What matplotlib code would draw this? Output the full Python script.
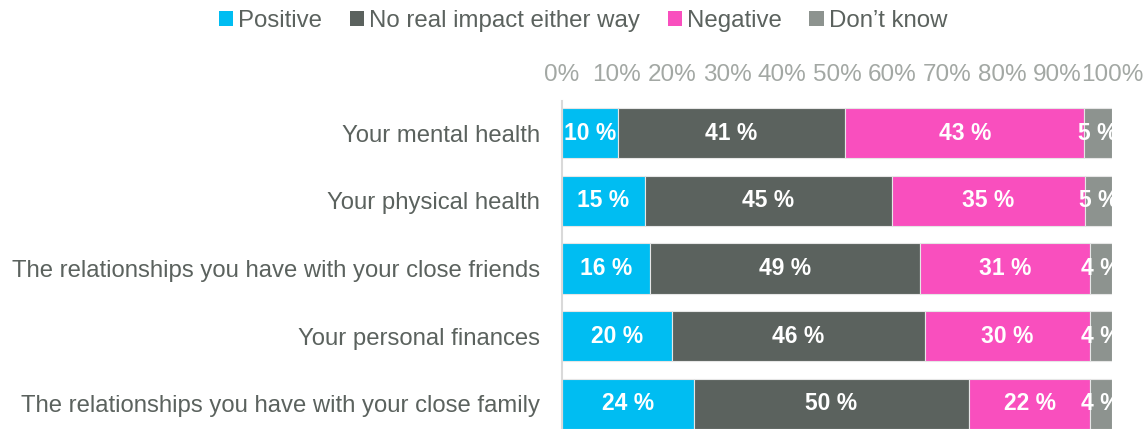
import numpy as np
import matplotlib.pyplot as plt
from matplotlib.patches import Patch

# respostas por item (%), da primeira para a última linha
itens = [
    "Your mental health",
    "Your physical health",
    "The relationships you have with your close friends",
    "Your personal finances",
    "The relationships you have with your close family",
]
series = ["Positive", "No real impact either way", "Negative", "Don\u2019t know"]
positivo = [10, 15, 16, 20, 24]
sem_impacto = [41, 45, 49, 46, 50]
negativo = [43, 35, 31, 30, 22]
nao_sabe = [5, 5, 4, 4, 4]
ticks = [0, 10, 20, 30, 40, 50, 60, 70, 80, 90, 100]

cores = ["#00BDF2", "#5B625E", "#F94FBE", "#8D938F"]
cinza_texto = "#5B625E"
cinza_ticks = "#A3A8A4"

plt.rcParams['font.family'] = ['Liberation Sans', 'DejaVu Sans']

dados = np.array([positivo, sem_impacto, negativo, nao_sabe], dtype=float)
# barras empilhadas a 100%
partes = dados / dados.sum(axis=0) * 100

fig = plt.figure(figsize=(11.48, 4.29), dpi=100)
ax = fig.add_axes([562 / 1148, 0, 550 / 1148, 1 - 101 / 429])

y = np.arange(len(itens))
esq = np.zeros(len(itens))
for i in range(len(series)):
    ax.barh(y, partes[i], left=esq, height=0.74, color=cores[i],
            edgecolor="#E6E6E6", linewidth=0.8)
    for j in range(len(itens)):
        ax.text(esq[j] + partes[i][j] / 2, y[j], "%d %%" % dados[i][j],
                ha="center", va="center", color="white", fontsize=16.5,
                fontweight="bold", clip_on=True)
    esq += partes[i]

ax.set_xlim(0, 100)
ax.set_ylim(4.37, -0.473)
ax.set_yticks(y)
ax.set_yticklabels(itens, fontsize=17.2, color=cinza_texto)
ax.set_xticks(ticks)
ax.set_xticklabels(["%d%%" % t for t in ticks], fontsize=17.5, color=cinza_ticks)
ax.xaxis.tick_top()
ax.tick_params(axis="both", length=0)
ax.tick_params(axis="x", pad=11)
ax.tick_params(axis="y", pad=16)
for lado in ["top", "right", "bottom"]:
    ax.spines[lado].set_visible(False)
ax.spines["left"].set_color("#D9D9D9")
ax.spines["left"].set_linewidth(1.5)

handles = [Patch(facecolor=c) for c in cores]
fig.legend(handles, series, loc="center", bbox_to_anchor=(583 / 1148, 1 - 21 / 429),
           ncol=4, frameon=False, fontsize=17.3, labelcolor=cinza_texto,
           handlelength=0.6, handleheight=0.6, handletextpad=0.2,
           columnspacing=1.15)

plt.savefig("out.png", dpi=100)
